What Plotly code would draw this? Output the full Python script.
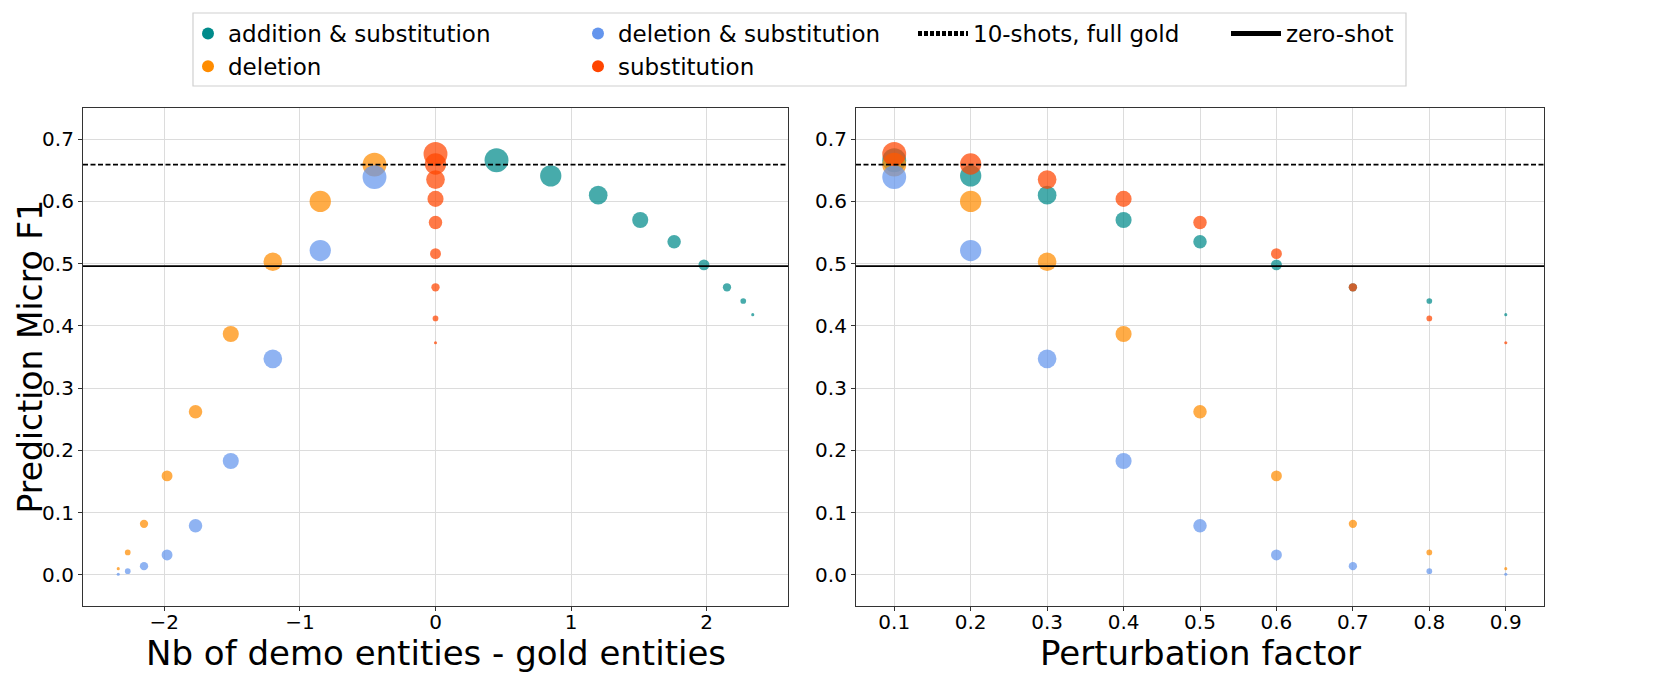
import plotly.graph_objects as go

# ---------------- data ----------------
perturbation = [0.1, 0.2, 0.3, 0.4, 0.5, 0.6, 0.7, 0.8, 0.9]

f1_add_sub = [0.666, 0.641, 0.610, 0.570, 0.535, 0.498, 0.462, 0.440, 0.418]
f1_deletion = [0.659, 0.600, 0.503, 0.387, 0.262, 0.159, 0.082, 0.036, 0.010]
f1_del_sub = [0.639, 0.521, 0.347, 0.183, 0.079, 0.032, 0.014, 0.006, 0.001]
f1_substitution = [0.676, 0.660, 0.635, 0.604, 0.566, 0.516, 0.462, 0.412, 0.373]

diff_add_sub = [0.45, 0.85, 1.20, 1.51, 1.76, 1.98, 2.15, 2.27, 2.34]
diff_deletion = [-0.45, -0.85, -1.20, -1.51, -1.77, -1.98, -2.15, -2.27, -2.34]
diff_del_sub = [-0.45, -0.85, -1.20, -1.51, -1.77, -1.98, -2.15, -2.27, -2.34]
diff_substitution = [0, 0, 0, 0, 0, 0, 0, 0, 0]

full_gold_10shot = 0.659
zero_shot = 0.496

series_names = ["addition & substitution", "deletion", "deletion & substitution", "substitution"]
series_colors = ["#008B8B", "#FF8C00", "#6495ED", "#FF4500"]
series_f1 = [f1_add_sub, f1_deletion, f1_del_sub, f1_substitution]
series_diff = [diff_add_sub, diff_deletion, diff_del_sub, diff_substitution]

y_title = "Prediction Micro F1"
x_title_left = "Nb of demo entities - gold entities"
x_title_right = "Perturbation factor"

# ---------------- figure ----------------
FONT = "DejaVu Sans"
W, H = 1661, 697
PLOT_TOP, PLOT_BOTTOM = 100, 598
LEFT_X = (75, 780)
RIGHT_X = (848, 1536)
sizes = [26 * (1 - p) + 0.5 for p in perturbation]

fig = go.Figure()

for name, col, f1, diff in zip(series_names, series_colors, series_f1, series_diff):
    fig.add_trace(go.Scatter(
        x=diff, y=f1, mode="markers", xaxis="x", yaxis="y", showlegend=False,
        marker=dict(size=sizes, color=col, opacity=0.72, line=dict(width=0)),
        name=name))
    fig.add_trace(go.Scatter(
        x=perturbation, y=f1, mode="markers", xaxis="x2", yaxis="y2", showlegend=False,
        marker=dict(size=sizes, color=col, opacity=0.72, line=dict(width=0)),
        name=name))

# legend entries (column-wise like matplotlib ncol=4)
legend_of = {"addition & substitution": "legend", "deletion": "legend",
             "deletion & substitution": "legend2", "substitution": "legend2"}
for name, col in zip(series_names, series_colors):
    fig.add_trace(go.Scatter(
        x=[None], y=[None], mode="markers", name=name, legend=legend_of[name],
        marker=dict(size=16, color=col, line=dict(width=0)), xaxis="x", yaxis="y"))

fig.add_trace(go.Scatter(x=[None], y=[None], mode="lines", name="10-shots, full gold",
                         legend="legend3", line=dict(color="black", width=1.2, dash="4px,2px"),
                         xaxis="x", yaxis="y"))
fig.add_trace(go.Scatter(x=[None], y=[None], mode="lines", name="zero-shot",
                         legend="legend4", line=dict(color="black", width=1.3),
                         xaxis="x", yaxis="y"))

# horizontal reference lines
for xr, yr in [("x domain", "y"), ("x2 domain", "y2")]:
    fig.add_shape(type="line", xref=xr, yref=yr, x0=0, x1=1, y0=full_gold_10shot, y1=full_gold_10shot,
                  line=dict(color="black", width=1.6, dash="5px,2.5px"), layer="above")
    fig.add_shape(type="line", xref=xr, yref=yr, x0=0, x1=1, y0=zero_shot, y1=zero_shot,
                  line=dict(color="black", width=1.8), layer="above")

# legend frame
fig.add_shape(type="rect", xref="paper", yref="paper",
              x0=185 / W, x1=1398 / W, y0=1 - 78 / H, y1=1 - 5 / H,
              line=dict(color="#d0d0d0", width=1.2), fillcolor="rgba(0,0,0,0)")

# axis titles
fig.add_annotation(text=y_title, textangle=-90, xref="paper", yref="paper",
                   x=0, y=1 - (PLOT_TOP + PLOT_BOTTOM) / 2 / H, xanchor="left", yanchor="middle",
                   showarrow=False, font=dict(family=FONT, size=33, color="black"))
for txt, (a, b) in [(x_title_left, LEFT_X), (x_title_right, RIGHT_X)]:
    fig.add_annotation(text=txt, xref="paper", yref="paper",
                       x=(a + b) / 2 / W, y=1 - 623 / H, xanchor="center", yanchor="top",
                       showarrow=False, font=dict(family=FONT, size=34, color="black"))

leg_common = dict(font=dict(family=FONT, size=23, color="black"), bgcolor="rgba(0,0,0,0)",
                  xanchor="left", yanchor="top", orientation="v", itemsizing="constant",
                  tracegroupgap=0)
ax_common = dict(showline=True, linecolor="#333333", linewidth=1.2, mirror=True,
                 showgrid=True, gridcolor="#dcdcdc", gridwidth=1, zeroline=False,
                 ticks="outside", ticklen=4, tickcolor="#333333",
                 tickfont=dict(family=FONT, size=20, color="black"))

fig.update_layout(
    width=W, height=H,
    margin=dict(l=0, r=0, t=0, b=0),
    paper_bgcolor="white", plot_bgcolor="white",
    font=dict(family=FONT, color="black"),
    xaxis=dict(domain=[LEFT_X[0] / W, LEFT_X[1] / W], range=[-2.6, 2.6], tickvals=[-2, -1, 0, 1, 2],
               ticklabelstandoff=-6, anchor="y", **ax_common),
    yaxis=dict(domain=[1 - PLOT_BOTTOM / H, 1 - PLOT_TOP / H], range=[-0.05, 0.75], dtick=0.1, tick0=0,
               tickformat=".1f", anchor="x", **ax_common),
    xaxis2=dict(domain=[RIGHT_X[0] / W, RIGHT_X[1] / W], range=[0.05, 0.95], dtick=0.1, tick0=0.1,
                tickformat=".1f", ticklabelstandoff=-6, anchor="y2", **ax_common),
    yaxis2=dict(domain=[1 - PLOT_BOTTOM / H, 1 - PLOT_TOP / H], range=[-0.05, 0.75], dtick=0.1, tick0=0,
                tickformat=".1f", anchor="x2", **ax_common),
    legend=dict(x=180 / W, y=1 - 4 / H, **leg_common),
    legend2=dict(x=570 / W, y=1 - 4 / H, **leg_common),
    legend3=dict(x=905 / W, y=1 - 4 / H, itemwidth=50, **leg_common),
    legend4=dict(x=1218 / W, y=1 - 4 / H, itemwidth=50, **leg_common),
)

fig.write_html("out.html")
